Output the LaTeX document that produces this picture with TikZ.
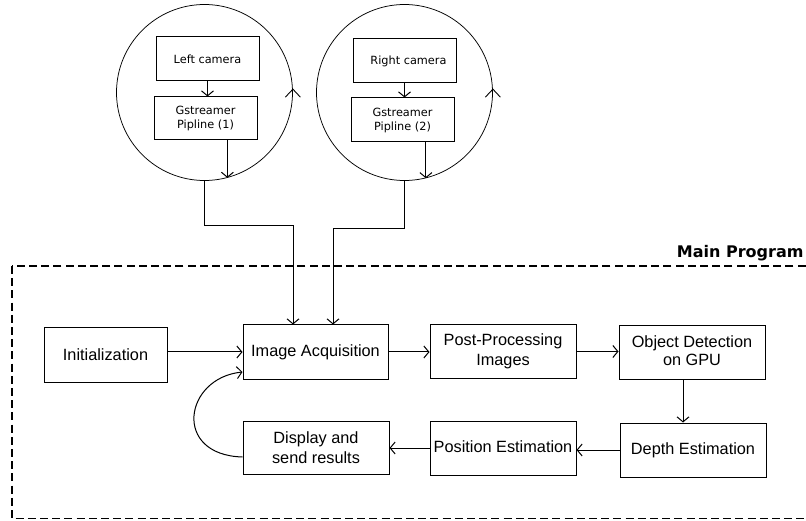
\documentclass[tikz,border=0pt]{standalone}
\usepackage{fontspec}
\setmainfont{Liberation Sans}
\newfontfamily\dejavu{DejaVu Sans}
\usetikzlibrary{arrows.meta}

\begin{document}
\begin{tikzpicture}[x=1pt,y=-1pt,
  box/.style={draw,line width=1pt,inner sep=0pt,align=center,
    font=\fontsize{16.3}{19.5}\selectfont},
  camstage/.style={draw,line width=1pt,inner sep=0pt,align=center,
    minimum width=103pt,font=\dejavu\fontsize{11.3}{14}\selectfont},
  loop/.style={draw,circle,line width=0.75pt,inner sep=0pt,minimum size=176pt},
  arr/.style={line width=1pt,-{Straight Barb[length=5pt,width=12pt]}},
  looparr/.style={line width=0.9pt,-{Straight Barb[length=8pt,width=15pt]}},
  frame/.style={line width=1.7pt,dash pattern=on 8pt off 4.2pt}]

\useasboundingbox (0,0) rectangle (806,521);

% camera capture loops
\node[loop] (lcirc) at (204.5,92.5) {};
\node[loop] (rcirc) at (404.5,92.5) {};
\draw[looparr] ([yshift=-4pt]lcirc.east) -- ([yshift=4pt]lcirc.east);
\draw[looparr] ([yshift=-4pt]rcirc.east) -- ([yshift=4pt]rcirc.east);

\node[camstage,minimum height=44pt] (lcam) at (207.5,59) {Left camera};
\node[camstage,minimum height=43pt] (lgst) at (205.5,118.5) {Gstreamer\\Pipline (1)};
\node[camstage,minimum height=44pt] (rcam) at (404.5,61) {\hspace*{8pt}Right camera};
\node[camstage,minimum height=44pt] (rgst) at (402.5,120) {Gstreamer\\Pipline (2)};

\draw[arr] (lcam.south) -- (lgst.north -| lcam.south);
\draw[arr] (rcam.south) -- (rgst.north -| rcam.south);
\draw[arr] (lcirc.-75.9 |- lgst.south) -- (lcirc.-75.9);
\draw[arr] (rcirc.-76.5 |- rgst.south) -- (rcirc.-76.5);

% main program frame
\draw[frame] (12,266) rectangle (815,518.6);
\node[anchor=base east,font=\dejavu\bfseries\fontsize{16}{18}\selectfont] (mp) at (807,258) {Main Program};

% main program stages
\node[box,minimum width=123pt,minimum height=54pt] (init) at (105.5,355) {Initialization};
\node[box,minimum width=145pt,minimum height=54pt] (ia) at (315.5,352) {Image Acquisition};
\node[box,minimum width=146pt,minimum height=53pt] (pp) at (503,351.5) {Post-Processing\\Images};
\node[box,minimum width=146pt,minimum height=53pt] (od) at (692,352.5) {\raisebox{-6pt}{\begin{tabular}{@{}c@{}}Object Detection\\[-2pt]on GPU\end{tabular}}};
\node[box,minimum width=146pt,minimum height=54pt] (dep) at (693,450) {Depth Estimation};
\node[box,minimum width=146pt,minimum height=54pt] (pos) at (503,448) {\raisebox{3pt}{Position Estimation}};
\node[box,minimum width=146pt,minimum height=53pt] (dsp) at (316,447.5) {Display and\\send results};

\coordinate (odx) at (683,0);

% camera feeds into acquisition
\draw[arr] (lcirc.south) -- ++(0,45) -| ([xshift=-22.5pt]ia.north);
\draw[arr] (rcirc.south) -- ++(0,48) -| ([xshift=17.5pt]ia.north);

% processing chain
\draw[arr] (init.east |- ia.west) -- (ia.west);
\draw[arr] (ia.east) -- (pp.west |- ia.east);
\draw[arr] (pp.east) -- (od.west |- pp.east);
\draw[arr] (od.south -| odx) -- (dep.north -| odx);
\draw[arr] (dep.west) -- (pos.east |- dep.west);
\draw[arr] (pos.west) -- (dsp.east |- pos.west);
\draw[arr] ([yshift=-9.5pt]dsp.west) .. controls (172,455) and (184,378) .. ([yshift=-20pt]ia.west);

\end{tikzpicture}
\end{document}
